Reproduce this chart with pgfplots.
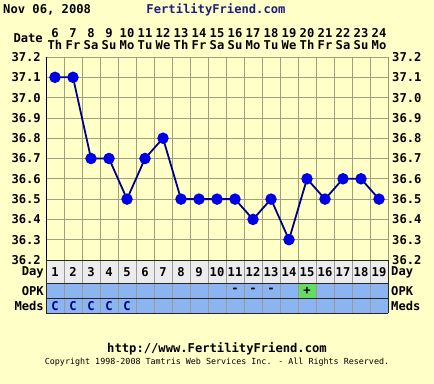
\documentclass[border=0pt]{standalone}
\usepackage{pgfplots}
\pgfplotsset{compat=1.18}
\usepackage{fontspec}
\setmainfont{DejaVu Sans Mono}
\definecolor{bgc}{RGB}{255,255,200}
\definecolor{gridc}{RGB}{160,160,128}
\definecolor{linec}{RGB}{0,0,130}
\definecolor{markc}{RGB}{0,0,230}
\definecolor{daygray}{RGB}{236,236,236}
\definecolor{opkblue}{RGB}{140,180,240}
\definecolor{opkgreen}{RGB}{100,220,100}
\definecolor{titleblue}{RGB}{30,30,130}
\newcommand{\bigf}{\bfseries\fontsize{12.2}{12}\selectfont}
\newcommand{\smallf}{\fontsize{8.4}{9}\selectfont}
\begin{document}
\begin{tikzpicture}
\fill[bgc] (0bp,0bp) rectangle (434bp,-384bp);
% titles
\node[anchor=west,inner sep=0] at (3bp,-10bp) {\bigf Nov 06, 2008};
\node[inner sep=0,text=titleblue] at (216bp,-10bp) {\bigf FertilityFriend.com};
\node[anchor=east,inner sep=0] at (43bp,-38bp) {\bigf Date};
% main chart
\begin{axis}[at={(46bp,-260bp)}, anchor=south west, width=342bp, height=203bp,
  scale only axis, xmin=0.5, xmax=19.5, ymin=36.2, ymax=37.2,
  axis background/.style={fill=bgc},
  axis line style={draw=gridc},
  xtick={1,...,19},
  xticklabels={{6\\Th},{7\\Fr},{8\\Sa},{9\\Su},{10\\Mo},{11\\Tu},{12\\We},{13\\Th},{14\\Fr},{15\\Sa},{16\\Su},{17\\Mo},{18\\Tu},{19\\We},{20\\Th},{21\\Fr},{22\\Sa},{23\\Su},{24\\Mo}},
  xticklabel pos=upper,
  xticklabel style={font=\bigf, align=center, inner sep=0pt, yshift=7bp},
  minor xtick={0.5,1.5,...,19.5},
  xminorgrids=true, xmajorgrids=false,
  ytick={36.2,36.3,...,37.25},
  ymajorgrids=true,
  grid style={draw=gridc, line width=0.8bp},
  minor grid style={draw=gridc, line width=0.8bp},
  major tick length=0pt, minor tick length=0pt,
  yticklabel pos=left,
  yticklabel style={font=\bigf, inner sep=0pt, xshift=-5bp},
  /pgf/number format/.cd, fixed, fixed zerofill, precision=1, assume math mode=true,
]
\addplot[linec, line width=1.8bp, mark=*, mark size=4.8bp, mark options={fill=markc, draw=markc}] coordinates {
(1,37.1) (2,37.1) (3,36.7) (4,36.7) (5,36.5) (6,36.7) (7,36.8) (8,36.5) (9,36.5) (10,36.5)
(11,36.5) (12,36.4) (13,36.5) (14,36.3) (15,36.6) (16,36.5) (17,36.6) (18,36.6) (19,36.5)};
\draw[black, line width=1bp] (axis cs:0.5,36.2) -- (axis cs:0.5,37.2);
\draw[gray!70!black, line width=1bp] (axis cs:19.5,36.2) -- (axis cs:19.5,37.2);
\end{axis}
% right tick labels
\begin{axis}[at={(46bp,-260bp)}, anchor=south west, width=342bp, height=203bp,
  scale only axis, xmin=0.5, xmax=19.5, ymin=36.2, ymax=37.2,
  axis line style={draw=none}, xtick=\empty,
  ytick={36.2,36.3,...,37.25},
  major tick length=0pt,
  yticklabel pos=right,
  yticklabel style={font=\bigf, inner sep=0pt, xshift=4bp},
  /pgf/number format/.cd, fixed, fixed zerofill, precision=1, assume math mode=true,
]
\end{axis}
% table
\begin{axis}[at={(46bp,-260bp)}, anchor=north west, width=342bp, height=53bp,
  scale only axis, xmin=0.5, xmax=19.5, ymin=0, ymax=53, y dir=reverse,
  hide axis, clip=false]
\fill[daygray] (axis cs:0.5,0) rectangle (axis cs:19.5,23);
\fill[opkblue] (axis cs:0.5,23) rectangle (axis cs:19.5,53);
\fill[opkgreen] (axis cs:14.5,23) rectangle (axis cs:15.5,38);
\pgfplotsinvokeforeach{1.5,2.5,...,18.5}{
  \draw[gray!80, line width=0.8bp] (axis cs:#1,0) -- (axis cs:#1,53);
}
\pgfplotsinvokeforeach{1,...,19}{
  \node[inner sep=0] at (axis cs:#1,12) {\bigf #1};
}
\pgfplotsinvokeforeach{1,...,5}{
  \node[inner sep=0, text=linec] at (axis cs:#1,46) {\bigf C};
}
\node[inner sep=0] at (axis cs:11,30.5) {\bigf -};
\node[inner sep=0] at (axis cs:12,30.5) {\bigf -};
\node[inner sep=0] at (axis cs:13,30.5) {\bigf -};
\node[inner sep=0] at (axis cs:15,30.5) {\bigf +};
\draw[black!85, line width=1bp] (axis cs:0.5,0) -- (axis cs:19.5,0);
\draw[black!85, line width=1bp] (axis cs:0.5,23) -- (axis cs:19.5,23);
\draw[black!85, line width=1bp] (axis cs:0.5,38) -- (axis cs:19.5,38);
\draw[black!85, line width=1bp] (axis cs:0.5,53) -- (axis cs:19.5,53);
\draw[black!85, line width=1bp] (axis cs:0.5,0) -- (axis cs:0.5,53);
\draw[black!85, line width=1bp] (axis cs:19.5,0) -- (axis cs:19.5,53);
\end{axis}
% row labels
\node[anchor=east,inner sep=0] at (44bp,-272bp) {\bigf Day};
\node[anchor=east,inner sep=0] at (44bp,-291bp) {\bigf OPK};
\node[anchor=east,inner sep=0] at (44bp,-306bp) {\bigf Meds};
\node[anchor=west,inner sep=0] at (391bp,-272bp) {\bigf Day};
\node[anchor=west,inner sep=0] at (391bp,-291bp) {\bigf OPK};
\node[anchor=west,inner sep=0] at (391bp,-306bp) {\bigf Meds};
% footer
\node[inner sep=0] at (217bp,-349bp) {\bigf http://www.FertilityFriend.com};
\node[inner sep=0] at (217bp,-362bp) {\smallf Copyright 1998-2008 Tamtris Web Services Inc. - All Rights Reserved.};
\end{tikzpicture}
\end{document}
